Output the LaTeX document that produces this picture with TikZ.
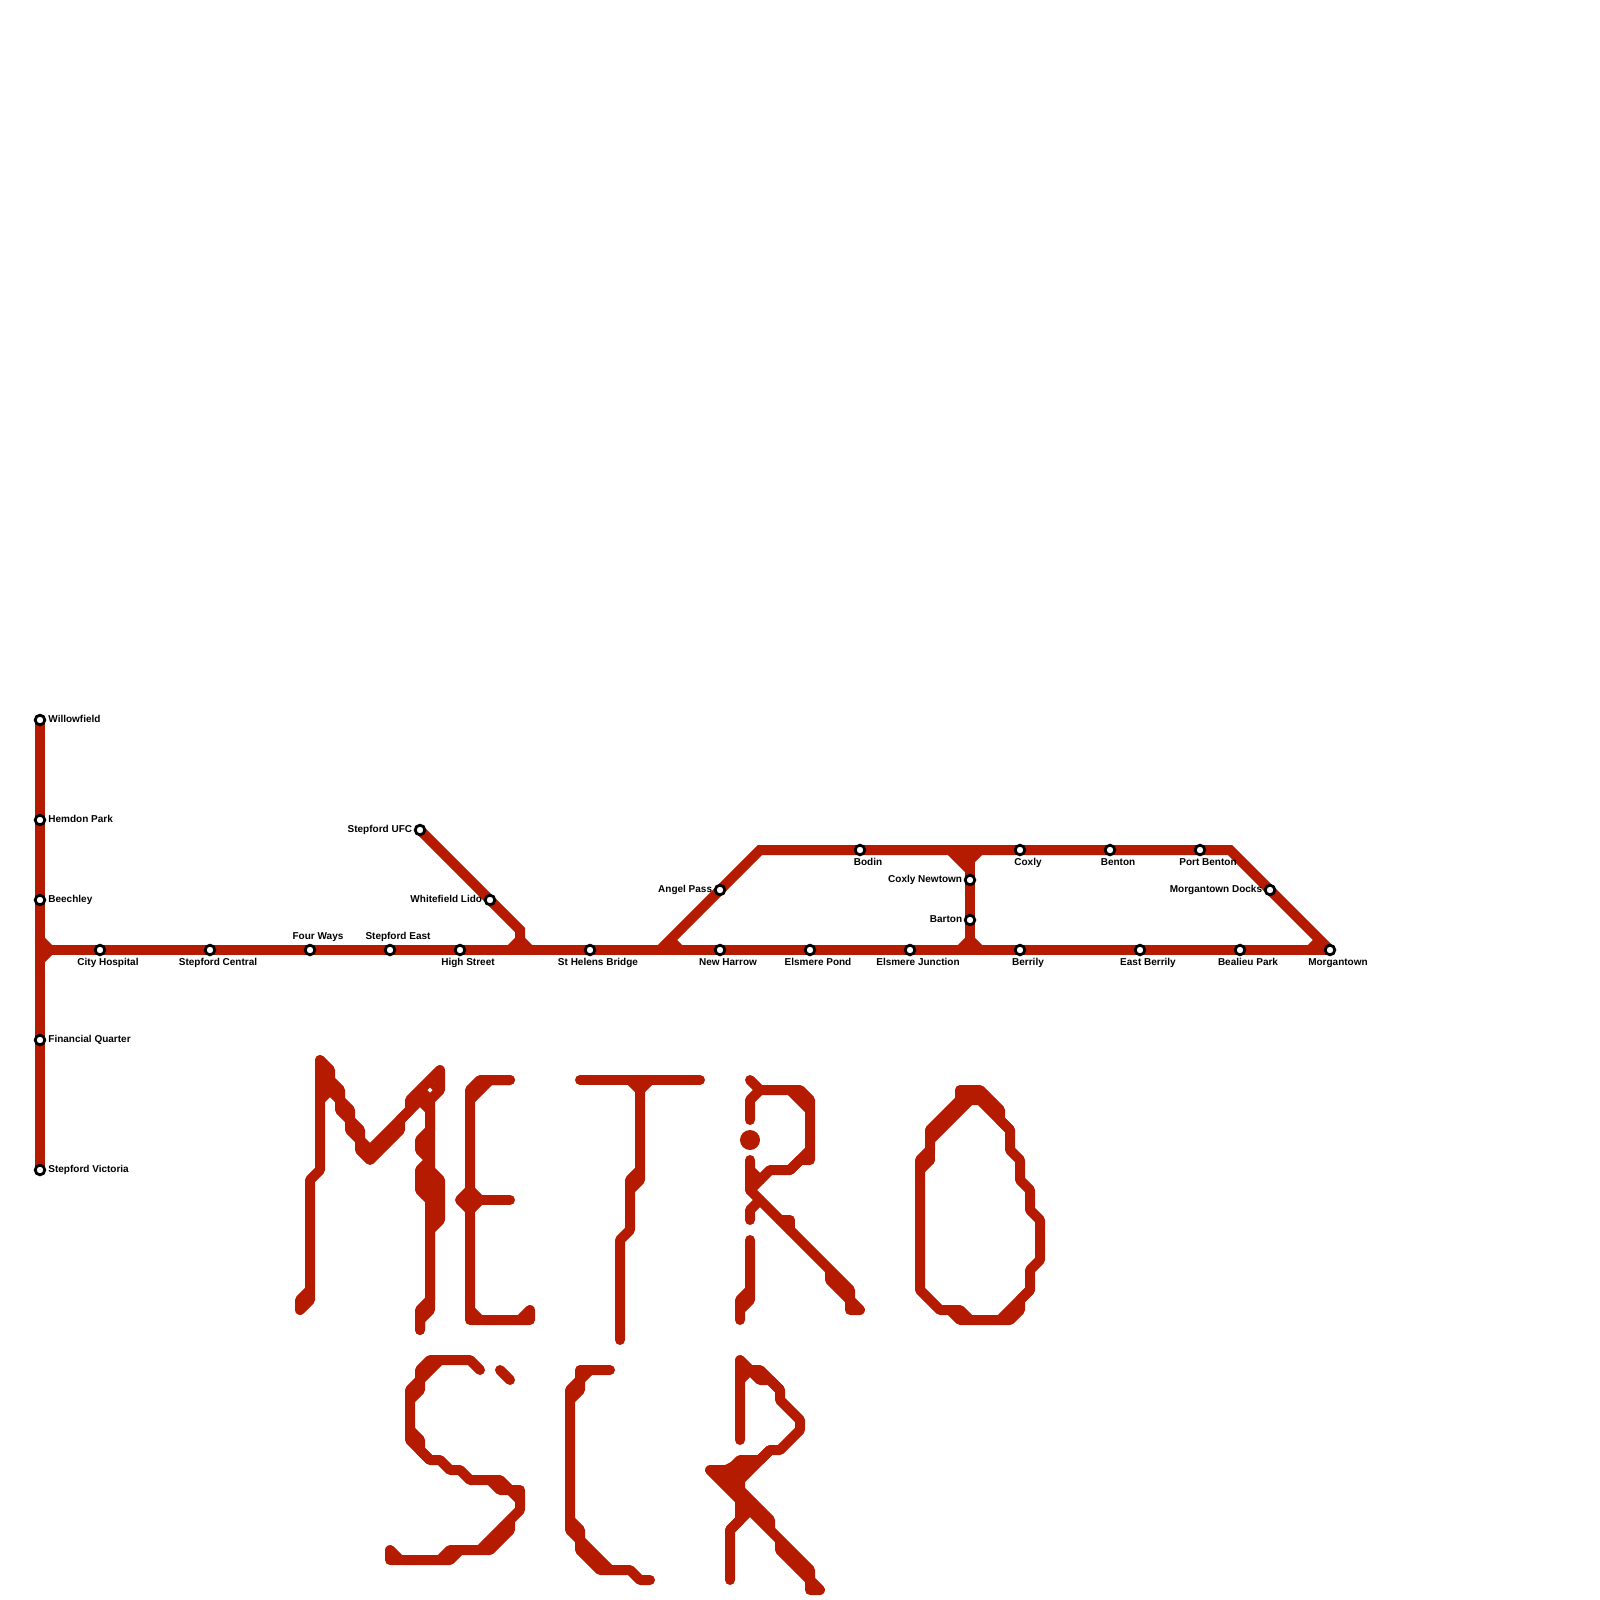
\documentclass[tikz,border=0pt]{standalone}
\usepackage{fontspec}
\setmainfont{Liberation Sans}
\usetikzlibrary{positioning,backgrounds}
\definecolor{linered}{HTML}{B51B00}
\tikzset{
    track/.style={draw=linered, line width=5pt, line join=miter},
    stroke/.style={draw=linered, line width=5pt, line cap=round, line join=round},
    stop/.style={circle, draw=black, fill=white, line width=1.4pt, minimum size=4.8pt, inner sep=0pt},
    stoptext/.style={font=\fontsize{5pt}{5pt}\selectfont\bfseries, inner sep=0pt, text height=3.6pt, text depth=1pt},
}
\begin{document}
\begin{tikzpicture}[x=0.5pt, y=-0.5pt]
    \useasboundingbox (0,0) rectangle (1600,1600);

    \node[stop] (willowfield) at (40,720) {};
    \node[stop] (hemdon) at (40,820) {};
    \node[stop] (beechley) at (40,900) {};
    \node[stop] (financial) at (40,1040) {};
    \node[stop] (victoria) at (40,1170) {};
    \node[stop] (cityhospital) at (100,950) {};
    \node[stop] (central) at (210,950) {};
    \node[stop] (fourways) at (310,950) {};
    \node[stop] (stepfordeast) at (390,950) {};
    \node[stop] (highstreet) at (460,950) {};
    \node[stop] (sthelens) at (590,950) {};
    \node[stop] (newharrow) at (720,950) {};
    \node[stop] (elsmerepond) at (810,950) {};
    \node[stop] (elsmerejn) at (910,950) {};
    \node[stop] (berrily) at (1020,950) {};
    \node[stop] (eastberrily) at (1140,950) {};
    \node[stop] (bealieu) at (1240,950) {};
    \node[stop] (morgantown) at (1330,950) {};
    \node[stop] (ufc) at (420,830) {};
    \node[stop] (lido) at (490,900) {};
    \node[stop] (angelpass) at (720,890) {};
    \node[stop] (bodin) at (860,850) {};
    \node[stop] (coxly) at (1020,850) {};
    \node[stop] (benton) at (1110,850) {};
    \node[stop] (portbenton) at (1200,850) {};
    \node[stop] (docks) at (1270,890) {};
    \node[stop] (newtown) at (970,880) {};
    \node[stop] (barton) at (970,920) {};

    \node[stoptext, right=0.9pt of willowfield] (willowfieldtext) {Willowfield};
    \node[stoptext, right=0.9pt of hemdon] (hemdontext) {Hemdon Park};
    \node[stoptext, right=0.9pt of beechley] (beechleytext) {Beechley};
    \node[stoptext, right=0.9pt of financial] (financialtext) {Financial Quarter};
    \node[stoptext, right=0.9pt of victoria] (victoriatext) {Stepford Victoria};
    \node[stoptext, below=0.9pt of cityhospital, xshift=4pt] (cityhospitaltext) {City Hospital};
    \node[stoptext, below=0.9pt of central, xshift=4pt] (centraltext) {Stepford Central};
    \node[stoptext, above=0.85pt of fourways, xshift=4pt] (fourwaystext) {Four Ways};
    \node[stoptext, above=0.85pt of stepfordeast, xshift=4pt] (stepfordeasttext) {Stepford East};
    \node[stoptext, below=0.9pt of highstreet, xshift=4pt] (highstreettext) {High Street};
    \node[stoptext, below=0.9pt of sthelens, xshift=4pt] (sthelenstext) {St Helens Bridge};
    \node[stoptext, below=0.9pt of newharrow, xshift=4pt] (newharrowtext) {New Harrow};
    \node[stoptext, below=0.9pt of elsmerepond, xshift=4pt] (elsmerepondtext) {Elsmere Pond};
    \node[stoptext, below=0.9pt of elsmerejn, xshift=4pt] (elsmerejntext) {Elsmere Junction};
    \node[stoptext, below=0.9pt of berrily, xshift=4pt] (berrilytext) {Berrily};
    \node[stoptext, below=0.9pt of eastberrily, xshift=4pt] (eastberrilytext) {East Berrily};
    \node[stoptext, below=0.9pt of bealieu, xshift=4pt] (bealieutext) {Bealieu Park};
    \node[stoptext, below=0.9pt of morgantown, xshift=4pt] (morgantowntext) {Morgantown};
    \node[stoptext, left=0.65pt of ufc] (ufctext) {Stepford UFC};
    \node[stoptext, left=0.65pt of lido] (lidotext) {Whitefield Lido};
    \node[stoptext, left=0.65pt of angelpass] (angelpasstext) {Angel Pass};
    \node[stoptext, below=0.9pt of bodin, xshift=4pt] (bodintext) {Bodin};
    \node[stoptext, below=0.9pt of coxly, xshift=4pt] (coxlytext) {Coxly};
    \node[stoptext, below=0.9pt of benton, xshift=4pt] (bentontext) {Benton};
    \node[stoptext, below=0.9pt of portbenton, xshift=4pt] (portbentontext) {Port Benton};
    \node[stoptext, left=0.65pt of docks] (dockstext) {Morgantown Docks};
    \node[stoptext, left=0.65pt of newtown] (newtowntext) {Coxly Newtown};
    \node[stoptext, left=0.65pt of barton] (bartontext) {Barton};

    \coordinate (westjn) at (40,950);
    \coordinate (ufcbend) at (520,930);
    \coordinate (ufcjn) at (520,950);
    \coordinate (loopstart) at (660,950);
    \coordinate (loopwest) at (760,850);
    \coordinate (loopeast) at (1230,850);
    \coordinate (linktop) at (970,850);
    \coordinate (linkbottom) at (970,950);

    \begin{scope}[on background layer]
        \draw[track] (willowfield.center) -- (hemdon.center) -- (beechley.center) -- (westjn) -- (financial.center) -- (victoria.center);
        \draw[track] (westjn) -- (cityhospital.center) -- (central.center) -- (fourways.center) -- (stepfordeast.center) -- (highstreet.center) -- (ufcjn) -- (sthelens.center) -- (loopstart) -- (newharrow.center) -- (elsmerepond.center) -- (elsmerejn.center) -- (linkbottom) -- (berrily.center) -- (eastberrily.center) -- (bealieu.center) -- (morgantown.center);
        \draw[track] (ufc.center) -- (lido.center) -- (ufcbend) -- (ufcjn);
        \draw[track] (loopstart) -- (angelpass.center) -- (loopwest) -- (bodin.center) -- (linktop) -- (coxly.center) -- (benton.center) -- (portbenton.center) -- (loopeast) -- (docks.center) -- (morgantown.center);
        \draw[track] (linktop) -- (newtown.center) -- (barton.center) -- (linkbottom);

        % small joins at the branches
        \draw[track] (40,940) -- (50,950) -- (40,960);
        \draw[track] (510,950) -- (520,940) -- (530,950);
        \draw[track] (670,940) -- (680,950);
        \draw[track] (950,850) -- (970,870);
        \draw[track] (960,850) -- (970,860);
        \draw[track] (980,850) -- (970,860);
        \draw[track] (960,950) -- (970,940) -- (980,950);
        \draw[track] (1310,950) -- (1320,940);
    \end{scope}

    % M
    \draw[stroke] (320,1060) -- (320,1170) -- (310,1180) -- (310,1300) -- (300,1310) -- (300,1300) -- (310,1290);
    \draw[stroke] (320,1060) -- (330,1070) -- (330,1080) -- (340,1090) -- (340,1100) -- (350,1110) -- (350,1120) -- (360,1130) -- (360,1140) -- (370,1150) -- (410,1110) -- (410,1100) -- (440,1070) -- (440,1090) -- (430,1100) -- (430,1170) -- (440,1180) -- (440,1220) -- (430,1230) -- (430,1310) -- (420,1320) -- (420,1330);
    \draw[stroke] (320,1100) -- (330,1090) -- (340,1100) -- (340,1110) -- (350,1120) -- (350,1130) -- (360,1140) -- (360,1150) -- (370,1160) -- (400,1130) -- (400,1120) -- (420,1100) -- (430,1110) -- (430,1130) -- (420,1140) -- (420,1150) -- (430,1160) -- (420,1170) -- (420,1190) -- (430,1200) -- (430,1300) -- (420,1310) -- (420,1330);
    \draw[stroke] (320,1070) -- (330,1080) -- (330,1090);
    \draw[stroke] (430,1160) -- (430,1230);
    \draw[stroke] (425,1145) -- (425,1150);
    \draw[stroke] (425,1175) -- (425,1195);
    \draw[stroke] (435,1185) -- (435,1220);
    \draw[stroke, line width=3pt, line cap=butt] (420,1100) -- (436,1084);
    \fill[white] (427.5,1090) -- (430,1087.5) -- (432.5,1090) -- (430,1092.5) -- cycle;

    % E
    \draw[stroke] (510,1080) -- (480,1080) -- (470,1090) -- (470,1320) -- (530,1320) -- (530,1310) -- (520,1320);
    \draw[stroke] (510,1080) -- (490,1080) -- (470,1100);
    \draw[stroke] (470,1190) -- (460,1200) -- (470,1210) -- (480,1200) -- (470,1190);
    \draw[stroke] (480,1200) -- (510,1200);
    \draw[stroke] (470,1310) -- (480,1320);

    % T
    \draw[stroke] (580,1080) -- (700,1080);
    \draw[stroke] (630,1080) -- (640,1090) -- (650,1080);
    \draw[stroke] (640,1090) -- (640,1170) -- (630,1180) -- (630,1230) -- (620,1240) -- (620,1340);
    \draw[stroke] (640,1170) -- (640,1180) -- (630,1190);

    % R
    \draw[stroke] (750,1080) -- (760,1090) -- (800,1090) -- (810,1100) -- (810,1160) -- (800,1160) -- (790,1170) -- (770,1170) -- (750,1190);
    \draw[stroke] (790,1090) -- (810,1110);
    \draw[stroke] (810,1150) -- (790,1170);
    \draw[stroke] (760,1090) -- (750,1100) -- (750,1120);
    \fill[linered] (750,1140) circle (10);
    \draw[stroke] (750,1160) -- (750,1190) -- (850,1290) -- (850,1310) -- (860,1310) -- (850,1300) -- (830,1280) -- (830,1270);
    \draw[stroke] (750,1170) -- (760,1180);
    \draw[stroke] (780,1220) -- (790,1220) -- (790,1230);
    \draw[stroke] (760,1200) -- (750,1210) -- (750,1220);
    \draw[stroke] (750,1240) -- (750,1300) -- (740,1310) -- (740,1320);
    \draw[stroke] (750,1290) -- (740,1300) -- (740,1310);

    % O
    \draw[stroke] (960,1090) -- (980,1090) -- (1000,1110) -- (1000,1120) -- (1010,1130) -- (1010,1150) -- (1020,1160) -- (1020,1180) -- (1030,1190) -- (1030,1210) -- (1040,1220) -- (1040,1260) -- (1030,1270) -- (1030,1290) -- (1020,1300) -- (1020,1310) -- (1010,1320) -- (960,1320) -- (950,1310) -- (940,1310) -- (920,1290) -- (920,1160) -- (930,1150) -- (930,1130) -- (960,1100) -- cycle;
    \draw[stroke] (930,1160) -- (920,1170);
    \draw[stroke] (930,1130) -- (930,1160);
    \draw[stroke] (930,1140) -- (970,1100) -- (980,1100) -- (1010,1130);
    \draw[stroke] (1030,1290) -- (1000,1320);
    \draw[stroke] (950,1310) -- (960,1310) -- (970,1320);
    \draw[stroke] (970,1090) -- (970,1100);
    \draw[stroke] (985,1100) -- (980,1095);

    % S
    \draw[stroke] (480,1370) -- (470,1360) -- (430,1360) -- (420,1370) -- (420,1380) -- (410,1390) -- (410,1440) -- (430,1460) -- (440,1460) -- (450,1470) -- (460,1470) -- (470,1480) -- (500,1480) -- (510,1490) -- (520,1490) -- (520,1510) -- (480,1550) -- (450,1550) -- (440,1560) -- (400,1560) -- (390,1550) -- (390,1560) -- (450,1560) -- (460,1550) -- (490,1550) -- (510,1530) -- (510,1520) -- (520,1510);
    \draw[stroke] (440,1360) -- (420,1380) -- (420,1390) -- (410,1400);
    \draw[stroke] (410,1430) -- (420,1440) -- (420,1450) -- (430,1460);
    \draw[stroke] (490,1480) -- (500,1490) -- (510,1490) -- (520,1500);
    \draw[stroke] (500,1370) -- (510,1380);

    % C
    \draw[stroke] (610,1370) -- (580,1370) -- (580,1380) -- (570,1390) -- (570,1530) -- (580,1540) -- (580,1550) -- (600,1570) -- (630,1570) -- (640,1580) -- (650,1580);
    \draw[stroke] (590,1370) -- (580,1380) -- (580,1390) -- (570,1400);
    \draw[stroke] (570,1520) -- (580,1530) -- (580,1540) -- (610,1570);

    % second R
    \draw[stroke] (740,1440) -- (740,1360) -- (750,1370) -- (760,1370) -- (780,1390) -- (780,1400) -- (800,1420) -- (800,1430) -- (780,1450) -- (770,1450) -- (740,1480);
    \draw[stroke] (740,1380) -- (750,1370) -- (760,1380) -- (770,1380) -- (780,1390);
    \draw[stroke] (770,1450) -- (760,1460) -- (740,1460) -- (730,1470) -- (710,1470) -- (740,1500) -- (740,1520) -- (730,1530) -- (730,1580);
    \fill[linered] (715,1470) -- (735,1460) -- (750,1460) -- (750,1470) -- (745,1480) -- (745,1505) -- (735,1495) -- cycle;
    \draw[stroke] (740,1490) -- (770,1520) -- (770,1530) -- (810,1570) -- (810,1590) -- (820,1590) -- (810,1580) -- (780,1550) -- (780,1540) -- (750,1510) -- (730,1530);
    \draw[stroke] (743,1498) -- (747,1510);
\end{tikzpicture}
\end{document}
